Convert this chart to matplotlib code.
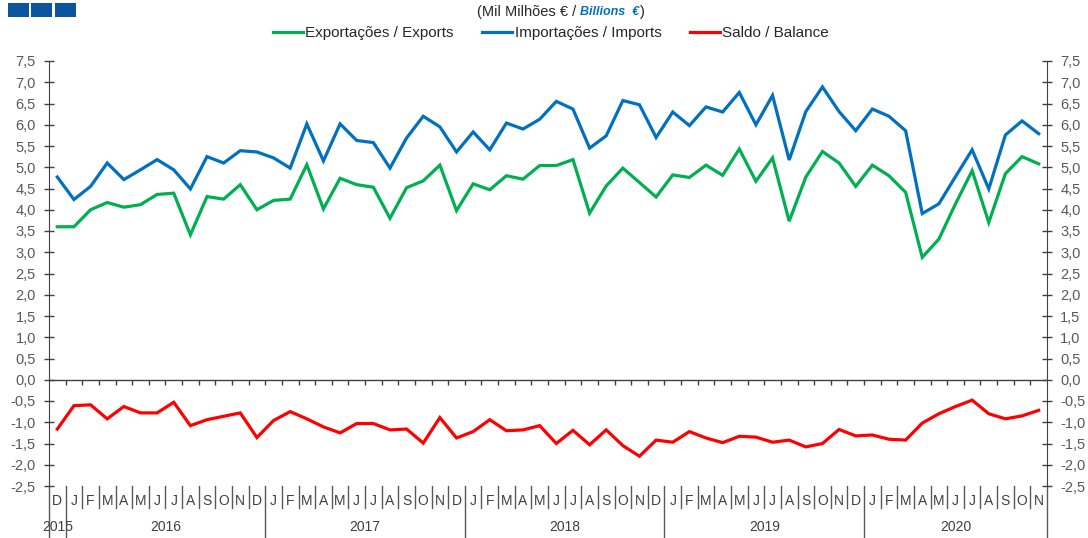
import matplotlib
matplotlib.use("Agg")
import matplotlib.pyplot as plt
import matplotlib.transforms as mtransforms
from matplotlib.patches import Rectangle

plt.rcParams['font.family'] = ['Liberation Sans', 'DejaVu Sans']

# Dez 2015 .. Nov 2020 (mil milhões de euros)
meses = ['D'] + ['J', 'F', 'M', 'A', 'M', 'J', 'J', 'A', 'S', 'O', 'N', 'D'] * 4 + \
        ['J', 'F', 'M', 'A', 'M', 'J', 'J', 'A', 'S', 'O', 'N']
anos = ['2015', '2016', '2017', '2018', '2019', '2020']

exportacoes = [3.60,
               3.60, 4.00, 4.17, 4.06, 4.12, 4.36, 4.39, 3.41, 4.31, 4.25, 4.59, 4.00,
               4.22, 4.25, 5.06, 4.02, 4.74, 4.59, 4.53, 3.80, 4.52, 4.68, 5.05, 3.98,
               4.61, 4.47, 4.80, 4.72, 5.04, 5.04, 5.18, 3.92, 4.56, 4.98, 4.64, 4.30,
               4.82, 4.76, 5.05, 4.81, 5.43, 4.67, 5.22, 3.73, 4.77, 5.37, 5.10, 4.55,
               5.05, 4.80, 4.41, 2.88, 3.31, 4.14, 4.92, 3.70, 4.85, 5.25, 5.08]
importacoes = [4.77,
               4.24, 4.55, 5.10, 4.71, 4.94, 5.18, 4.94, 4.49, 5.25, 5.10, 5.39, 5.36,
               5.22, 4.98, 6.02, 5.15, 6.02, 5.63, 5.58, 4.98, 5.69, 6.20, 5.95, 5.36,
               5.83, 5.41, 6.04, 5.90, 6.13, 6.55, 6.37, 5.45, 5.74, 6.57, 6.47, 5.70,
               6.30, 5.98, 6.42, 6.30, 6.76, 6.00, 6.69, 5.17, 6.31, 6.89, 6.31, 5.86,
               6.37, 6.20, 5.86, 3.91, 4.14, 4.78, 5.41, 4.49, 5.76, 6.09, 5.79]
saldo = [-1.16,
         -0.61, -0.59, -0.92, -0.63, -0.78, -0.78, -0.53, -1.08, -0.94, -0.86, -0.78, -1.36,
         -0.96, -0.75, -0.92, -1.11, -1.25, -1.03, -1.03, -1.18, -1.16, -1.49, -0.89, -1.37,
         -1.22, -0.94, -1.20, -1.18, -1.08, -1.50, -1.19, -1.53, -1.18, -1.55, -1.80, -1.42,
         -1.47, -1.22, -1.37, -1.48, -1.33, -1.35, -1.47, -1.42, -1.58, -1.50, -1.17, -1.32,
         -1.30, -1.40, -1.42, -1.02, -0.80, -0.63, -0.48, -0.80, -0.92, -0.85, -0.72]

VERDE = '#00B050'
AZUL = '#0070C0'
VERMELHO = '#FF0000'
CINZA = '#404040'

W, H = 1088, 538
fig = plt.figure(figsize=(W / 100, H / 100), dpi=100)
ax = fig.add_axes([49 / W, 1 - 486 / H, 998 / W, 425 / H])

x = list(range(len(meses)))
ax.plot(x, exportacoes, color=VERDE, lw=2.3, label='Exportações / Exports', solid_joinstyle='miter')
ax.plot(x, importacoes, color=AZUL, lw=2.3, label='Importações / Imports', solid_joinstyle='miter')
ax.plot(x, saldo, color=VERMELHO, lw=2.3, label='Saldo / Balance', solid_joinstyle='miter')

ax.set_xlim(-0.5, len(meses) - 0.5)
ax.set_ylim(-2.5, 7.5)

# eixos verticais dos dois lados
yt = [i * 0.5 for i in range(-5, 16)]
ax.set_yticks(yt)
ax.set_yticklabels([f'{v:.1f}'.replace('.', ',') for v in yt])
ax.tick_params(axis='y', left=True, right=True, labelleft=True, labelright=True,
               direction='inout', length=7, width=1, color=CINZA,
               labelsize=10.5, labelcolor='#595959', pad=6)
ax.set_xticks([])
for s in ['top', 'bottom']:
    ax.spines[s].set_visible(False)
for s in ['left', 'right']:
    ax.spines[s].set_color(CINZA)

# linha do zero com marcas entre meses
ax.axhline(0, color=CINZA, lw=1)
ax.vlines([i + 0.5 for i in range(len(meses) - 1)], -0.13, 0, color=CINZA, lw=1)

# eixo de categorias por baixo
trans = mtransforms.blended_transform_factory(ax.transData, ax.transAxes)
for i, m in enumerate(meses):
    ax.text(i, -0.036, m, transform=trans, ha='center', va='center',
            fontsize=10, color='#404040', clip_on=False)
limites = [i - 0.5 for i in range(len(meses) + 1)]
for b in limites:
    longo = (b in (-0.5, 0.5, len(meses) - 0.5)) or ((b - 0.5) % 12 == 0)
    ax.plot([b, b], [0, -0.125 if longo else -0.052], transform=trans,
            color='#595959', lw=1, clip_on=False)

centros_anos = [0, 6.5, 18.5, 30.5, 42.5, 54]
for a, c in zip(anos, centros_anos):
    ax.text(c, -0.097, a, transform=trans, ha='center', va='center',
            fontsize=10, color='#404040', clip_on=False)

# legenda e unidade
fig.legend(loc='center', bbox_to_anchor=(551 / W, 1 - 33 / H), ncol=3, frameon=False,
           fontsize=11, handlelength=1.95, handletextpad=0.15, columnspacing=1.9,
           borderaxespad=0, labelcolor='#262626')
t1 = fig.text(576 / W, 1 - 12 / H, '(Mil Milhões € /', ha='right', va='center',
              fontsize=10.5, color='#262626')
t2 = ax.annotate('Billions  €', xy=(1, 0.5), xycoords=t1, xytext=(3, 0),
                 textcoords='offset points', ha='left', va='center', fontsize=9,
                 color=AZUL, fontweight='bold', fontstyle='italic', annotation_clip=False)
ax.annotate(')', xy=(1, 0.5), xycoords=t2, xytext=(0.5, 0), textcoords='offset points',
            ha='left', va='center', fontsize=10.5, color='#262626', annotation_clip=False)

# logotipo (três quadrados)
for x0 in (8, 31, 55):
    fig.patches.append(Rectangle((x0 / W, 1 - 17 / H), 21 / W, 14 / H, lw=0,
                                 transform=fig.transFigure, facecolor='#0B559C'))

fig.savefig('out.png', dpi=100)
